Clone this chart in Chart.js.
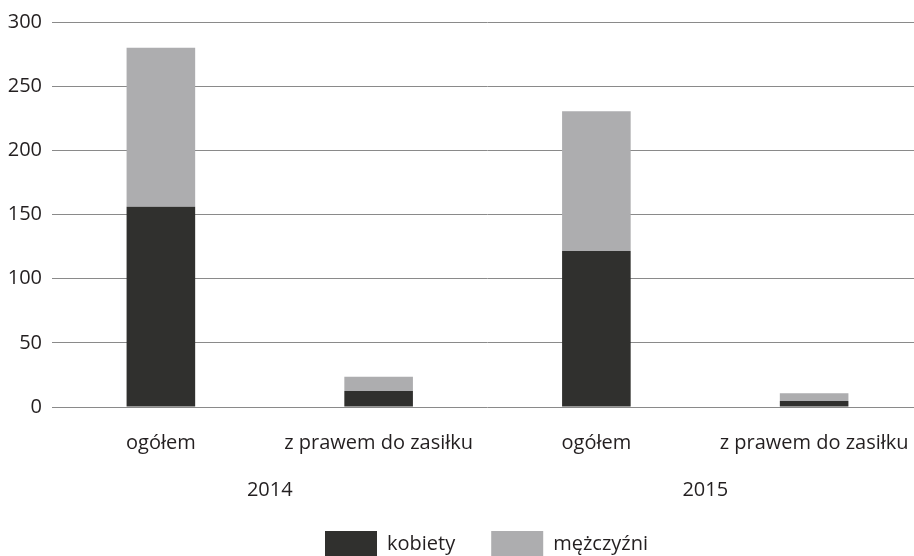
<!DOCTYPE html>
<html>
<head>
<meta charset="utf-8">
<script src="https://cdn.jsdelivr.net/npm/chart.js@4.4.1/dist/chart.umd.min.js"></script>
<style>
  html, body { margin: 0; padding: 0; background: #fff; overflow: hidden; }
  #wrap { width: 914px; height: 556px; overflow: hidden; }
</style>
</head>
<body>
<div id="wrap"><canvas id="chart" width="983" height="556"></canvas></div>
<script>
// ===== DATA =====
const categories = ['ogółem', 'z prawem do zasiłku', 'ogółem', 'z prawem do zasiłku'];
const years = ['2014', '2015'];
const kobiety = [156, 12.5, 121.5, 4.7];
const mezczyzni = [124, 11, 109, 6];
const yTicks = [0, 50, 100, 150, 200, 250, 300];

const TEXT = '#231f20';
const FONT = { family: '"Open Sans", sans-serif', size: 20 };

// legend in the original is centred under the plot area, not the canvas,
// and sits right on the bottom edge
const legendShift = {
    id: 'legendShift',
    afterLayout(chart) {
        const lg = chart.legend;
        if (!lg) return;
        lg.left += 25; lg.right += 25;
        lg.top -= 19; lg.bottom -= 19;
    }
};

new Chart(document.getElementById('chart').getContext('2d'), {
    type: 'bar',
    data: {
        labels: categories,
        datasets: [
            { label: 'kobiety', data: kobiety, backgroundColor: '#30302e', borderWidth: 0 },
            { label: 'mężczyźni', data: mezczyzni, backgroundColor: '#adadaf', borderWidth: 0 }
        ]
    },
    plugins: [legendShift],
    options: {
        responsive: false,
        animation: false,
        categoryPercentage: 1,
        barPercentage: 0.315,
        // plot runs past the right edge of the window like in the original
        layout: { padding: { top: 10, right: 60, left: 0, bottom: -30 } },
        plugins: {
            tooltip: { enabled: false },
            legend: {
                position: 'bottom',
                labels: {
                    color: TEXT, font: FONT,
                    boxWidth: 52, boxHeight: 26, padding: 36
                }
            }
        },
        scales: {
            x: {
                stacked: true,
                grid: { display: false, drawTicks: false },
                border: { display: false },
                ticks: { color: TEXT, font: FONT, padding: 24, maxRotation: 0, autoSkip: false },
                afterFit: s => { s.height = 67; }
            },
            x2: {
                type: 'category',
                labels: years,
                offset: true,
                position: 'bottom',
                grid: { display: false, drawTicks: false },
                border: { display: false },
                ticks: { color: TEXT, font: FONT, padding: 4 },
                afterFit: s => { s.height = 40; }
            },
            y: {
                stacked: true,
                min: 0, max: 300,
                afterBuildTicks: s => { s.ticks = yTicks.map(v => ({ value: v })); },
                grid: { color: '#8a8a8a', lineWidth: 1, drawTicks: false },
                border: { display: false },
                ticks: { color: TEXT, font: FONT, padding: 10 },
                afterFit: s => { s.width = 52; }
            }
        }
    }
});
</script>
</body>
</html>
